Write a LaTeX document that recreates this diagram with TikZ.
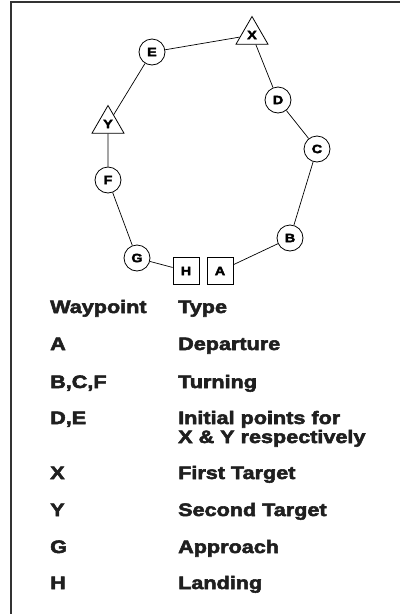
\documentclass[tikz,border=0pt]{standalone}
\usepackage{fontspec}
\usetikzlibrary{shapes.geometric}
\newfontfamily\heavy{Liberation Sans Bold}[FakeBold=3,FakeStretch=1.2]
\begin{document}
\begin{tikzpicture}[x=1pt,y=-1pt,
  wp/.style={circle,draw,line width=0.8pt,minimum size=26pt,inner sep=0pt,font=\heavy\fontsize{12}{12}\selectfont},
  tgt/.style={regular polygon,regular polygon sides=3,draw,line width=0.8pt,minimum size=37pt,inner sep=0pt,font=\heavy\fontsize{12}{12}\selectfont},
  sq/.style={rectangle,draw,line width=0.8pt,minimum width=26pt,minimum height=27pt,inner sep=0pt,font=\heavy\fontsize{12}{12}\selectfont},
  leg/.style={anchor=base west,inner sep=0pt,font=\heavy\fontsize{18}{19}\selectfont,text=black!88},
  link/.style={line width=0.7pt}]
\useasboundingbox (0,0) rectangle (400,614);
\draw[line width=1.6pt,black!80] (11,614) -- (11,2) -- (400,2);
% waypoints
\node[wp] (E) at (152,52) {E};
\node[tgt] (X) at (252,35) {X};
\node[wp] (D) at (278,100) {D};
\node[wp] (C) at (317,149) {C};
\node[wp] (B) at (290,238) {B};
\node[sq] (A) at (220,271) {A};
\node[sq] (H) at (186,271) {H};
\node[wp] (G) at (137,258) {G};
\node[wp] (F) at (108,180) {F};
\node[tgt] (Y) at (108,124) {Y};
\draw[link] (E) -- (X);
\draw[link] (X) -- (D);
\draw[link] (D) -- (C);
\draw[link] (C) -- (B);
\draw[link] (B) -- (A);
\draw[link] (G) -- (H);
\draw[link] (F) -- (G);
\draw[link] (Y) -- (F);
\draw[link] (E) -- (Y);
% legend
\node[leg] (h1) at (50,313) {Waypoint};
\node[leg] (h2) at (178,313) {Type};
\node[leg] (r1a) at (50,350) {A};
\node[leg] (r1b) at (178,350) {Departure};
\node[leg] (r2a) at (50,388) {B,C,F};
\node[leg] (r2b) at (178,388) {Turning};
\node[leg] (r3a) at (50,424) {D,E};
\node[leg] (r3b) at (178,424) {Initial points for};
\node[leg] (r3c) at (178,443) {X \& Y respectively};
\node[leg] (r4a) at (50,479) {X};
\node[leg] (r4b) at (178,479) {First Target};
\node[leg] (r5a) at (50,516) {Y};
\node[leg] (r5b) at (178,516) {Second Target};
\node[leg] (r6a) at (50,553) {G};
\node[leg] (r6b) at (178,553) {Approach};
\node[leg] (r7a) at (50,589) {H};
\node[leg] (r7b) at (178,589) {Landing};
\end{tikzpicture}
\end{document}
